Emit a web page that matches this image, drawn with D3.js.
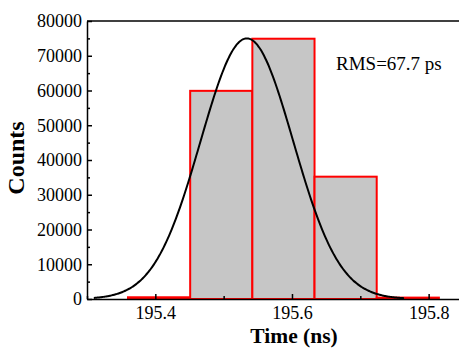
<!DOCTYPE html>
<html>
<head>
<meta charset="utf-8">
<script src="https://cdn.jsdelivr.net/npm/d3@7"></script>
<style>
body { margin: 0; background: #fff; }
svg { display: block; font-family: "Liberation Serif", "Times New Roman", serif; }
.axis text { font-family: "Liberation Serif", "Times New Roman", serif; font-size: 18px; fill: #000; }
.axis path, .axis line { stroke: #000; stroke-width: 1.5px; }
</style>
</head>
<body>
<svg width="459" height="348"></svg>
<script>
// histogram bins (ns) and counts
var binEdges = [195.36, 195.451, 195.542, 195.633, 195.724, 195.815];
var counts = [500, 59900, 74900, 35200, 400];
// gaussian fit
var fitCenter = 195.534, fitSigma = 0.0677, fitPeak = 75000;
var fitRange = [195.31, 195.765];
var xTicks = [195.4, 195.6, 195.8],
	xMinor = [195.3, 195.5, 195.7],
	yTicks = [0, 10000, 20000, 30000, 40000, 50000, 60000, 70000, 80000],
	yMinor = [5000, 15000, 25000, 35000, 45000, 55000, 65000, 75000];

var svg = d3.select("svg");
var mLeft = 87, mTop = 21, mBottom = 299, mRight = 462.8;

var x = d3.scaleLinear().domain([195.3, 195.85]).range([mLeft, mRight]);
var y = d3.scaleLinear().domain([0, 80000]).range([mBottom, mTop]);

var bins = counts.map(function(c, i) { return {x0: binEdges[i], x1: binEdges[i + 1], c: c}; });

svg.append("g").selectAll("rect")
	.data(bins)
	.enter().append("rect")
	.attr("x", function(d) { return x(d.x0); })
	.attr("y", function(d) { return y(d.c); })
	.attr("width", function(d) { return x(d.x1) - x(d.x0); })
	.attr("height", function(d) { return y(0) - y(d.c); })
	.attr("fill", "#c6c6c6")
	.attr("stroke", "#ff0000")
	.attr("stroke-width", 2);

// fitted curve
var fit = d3.range(fitRange[0], fitRange[1], 0.002).map(function(t) {
	return [t, fitPeak * Math.exp(-(t - fitCenter) * (t - fitCenter) / (2 * fitSigma * fitSigma))];
});
var line = d3.line()
	.x(function(d) { return x(d[0]); })
	.y(function(d) { return y(d[1]); })
	.curve(d3.curveBasis);
svg.append("path")
	.datum(fit)
	.attr("d", line)
	.attr("fill", "none")
	.attr("stroke", "#000")
	.attr("stroke-width", 2);

// axes
svg.append("g")
	.attr("class", "axis")
	.attr("transform", "translate(0," + mBottom + ")")
	.call(d3.axisBottom(x).tickValues(xTicks).tickFormat(d3.format(".1f"))
		.tickSizeInner(-5).tickSizeOuter(0).tickPadding(7));
svg.append("g")
	.attr("class", "axis")
	.attr("transform", "translate(0," + mBottom + ")")
	.call(d3.axisBottom(x).tickValues(xMinor).tickFormat("").tickSizeInner(-3).tickSizeOuter(0))
	.select(".domain").remove();
svg.append("g")
	.attr("class", "axis")
	.attr("transform", "translate(" + mLeft + ",0)")
	.call(d3.axisLeft(y).tickValues(yTicks).tickFormat(d3.format("d"))
		.tickSizeInner(-5).tickSizeOuter(0).tickPadding(5));
svg.append("g")
	.attr("class", "axis")
	.attr("transform", "translate(" + mLeft + ",0)")
	.call(d3.axisLeft(y).tickValues(yMinor).tickFormat("").tickSizeInner(-3).tickSizeOuter(0))
	.select(".domain").remove();

// top frame
svg.append("line")
	.attr("x1", mLeft).attr("x2", mRight)
	.attr("y1", mTop).attr("y2", mTop)
	.attr("stroke", "#000").attr("stroke-width", 1.5);

svg.append("text")
	.attr("x", 336).attr("y", 70)
	.attr("font-size", "19px")
	.text("RMS=67.7 ps");

svg.append("text")
	.attr("x", 294).attr("y", 343)
	.attr("text-anchor", "middle")
	.attr("font-size", "21.5px")
	.attr("font-weight", "bold")
	.text("Time (ns)");

svg.append("text")
	.attr("transform", "translate(24,158) rotate(-90)")
	.attr("text-anchor", "middle")
	.attr("font-size", "24px")
	.attr("font-weight", "bold")
	.text("Counts");
</script>
</body>
</html>
